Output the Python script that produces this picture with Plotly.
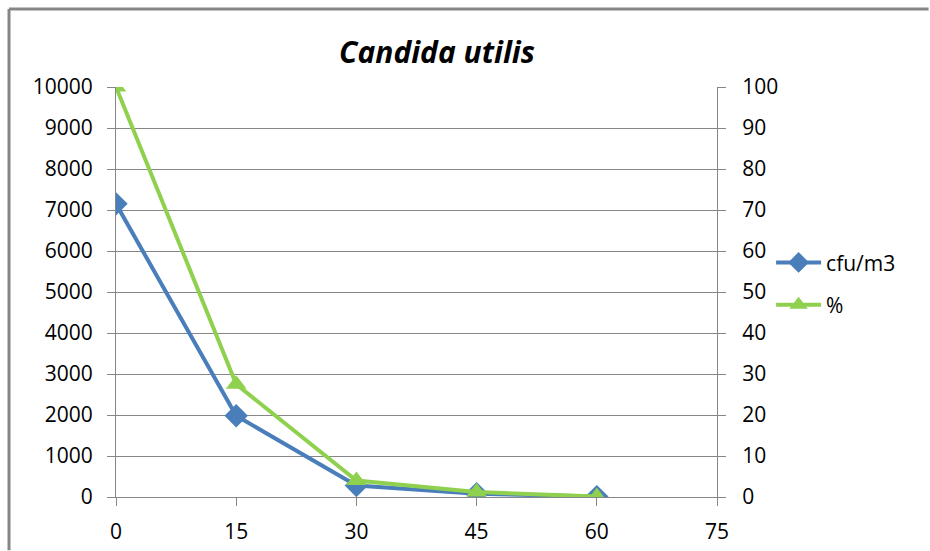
import plotly.graph_objects as go

x_min = [0, 15, 30, 45, 60]
cfu = [7150, 1980, 280, 80, 10]
pct = [100, 27.5, 4, 1.2, 0.1]
x_ticks = [0, 15, 30, 45, 60, 75]
left_ticks = list(range(0, 10001, 1000))
right_ticks = list(range(0, 101, 10))

blue = "#4a7ebb"
green = "#8fd14f"
font = "Open Sans"

fig = go.Figure()
fig.add_trace(go.Scatter(x=x_min, y=cfu, name="cfu/m3", mode="lines+markers", legendgroup="a",
                         line=dict(color=blue, width=4),
                         marker=dict(symbol="diamond", size=18, color=blue)))
fig.add_trace(go.Scatter(x=x_min, y=pct, name="%", mode="lines+markers", yaxis="y2", legendgroup="b",
                         line=dict(color=green, width=4),
                         marker=dict(symbol="triangle-up", size=18, color=green)))

axis_common = dict(showline=True, linecolor="#868686", linewidth=1, ticks="outside",
                   tickcolor="#868686", ticklen=8, tickfont=dict(family=font, size=21, color="#000"),
                   zeroline=False, automargin=False)
fig.update_layout(
    width=930, height=551,
    paper_bgcolor="white", plot_bgcolor="white",
    margin=dict(l=116, r=213, t=87, b=54),
    title=dict(text="<b><i>Candida utilis</i></b>", x=437 / 930, xanchor="center", y=1 - 52 / 551,
               yanchor="middle", xref="container", yref="container",
               font=dict(family=font, size=30, color="#000")),
    xaxis=dict(range=[0, 75], tickvals=x_ticks, showgrid=False, ticklabelstandoff=8, **axis_common),
    yaxis=dict(range=[0, 10000], tickvals=left_ticks, ticktext=[str(v) for v in left_ticks],
               showgrid=True, gridcolor="#868686", gridwidth=1, ticklabelstandoff=10, **axis_common),
    yaxis2=dict(range=[0, 100], tickvals=right_ticks, overlaying="y", side="right", showgrid=False,
                ticklabelstandoff=12, **axis_common),
    legend=dict(x=1.09, y=0.52, xanchor="left", yanchor="middle", bgcolor="rgba(0,0,0,0)",
                font=dict(family=font, size=21, color="#000"), tracegroupgap=12, itemwidth=45),
    showlegend=True,
)
fig.add_shape(type="line", xref="paper", yref="paper", x0=-0.178, x1=1.352, y0=1.19, y1=1.19,
              line=dict(color="#868686", width=3), layer="below")
fig.add_shape(type="line", xref="paper", yref="paper", x0=-0.178, x1=-0.178, y0=-0.13, y1=1.19,
              line=dict(color="#868686", width=3), layer="below")
fig.write_html("out.html", config={"displayModeBar": False},
               post_script="document.body.style.margin='0';document.body.style.overflow='hidden';"
                           "document.documentElement.style.overflow='hidden';")
